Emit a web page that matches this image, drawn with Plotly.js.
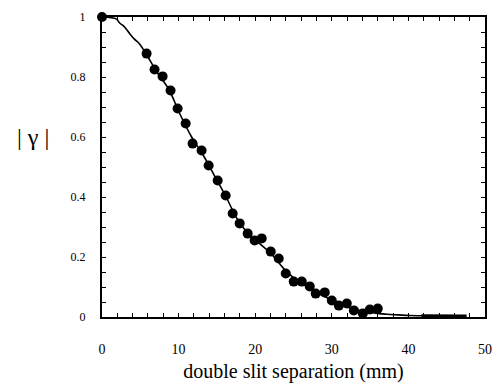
<!DOCTYPE html>
<html>
<head>
<meta charset="utf-8">
<script src="https://cdn.plot.ly/plotly-3.0.1.min.js"></script>
<style>html,body{margin:0;padding:0;background:#fff;}#chart{width:499px;height:386px;}</style>
</head>
<body>
<div id="chart"></div>
<script>
// measured points
const sepX = [0, 5.82, 6.86, 7.91, 8.95, 9.87, 10.92, 11.83, 13.0, 13.92, 15.1, 16.14, 17.06, 17.97, 19.02, 19.93, 20.85, 22.03, 23.07, 23.99, 25.03, 26.08, 27.12, 27.9, 29.08, 30.0, 30.92, 31.96, 32.88, 34.05, 34.97, 36.0];
const gammaY = [1.0, 0.878, 0.825, 0.802, 0.755, 0.695, 0.645, 0.578, 0.555, 0.505, 0.455, 0.405, 0.345, 0.312, 0.278, 0.255, 0.262, 0.218, 0.195, 0.145, 0.118, 0.118, 0.102, 0.078, 0.082, 0.055, 0.038, 0.045, 0.022, 0.012, 0.025, 0.028];
// fitted curve
const fitX = [0, 1.9, 2.3, 2.9, 3.6, 4.2, 4.9, 5.8, 7.2, 8.7, 10.2, 11.7, 13.2, 14.7, 16.2, 17.7, 19.2, 20.7, 22.2, 23.7, 25.2, 26.7, 28.2, 29.7, 31.2, 32.7, 34.2, 35.7, 37.2, 38.7, 40.2, 41.7, 43.2, 45.2, 47.2];
const fitY = [1.0, 0.993, 0.98, 0.968, 0.945, 0.927, 0.91, 0.875, 0.815, 0.76, 0.675, 0.6, 0.54, 0.47, 0.4, 0.325, 0.275, 0.242, 0.208, 0.162, 0.127, 0.103, 0.08, 0.06, 0.042, 0.028, 0.018, 0.013, 0.009, 0.007, 0.005, 0.004, 0.003, 0.003, 0.003];
// thick tail segment
const tailX = [41.7, 47.6];
const tailY = [0.004, 0.003];
// tick positions and labels
const xTickVals = [0, 2, 4, 6, 8, 10, 12, 14, 16, 18, 20, 22, 24, 26, 28, 30, 32, 34, 36, 38, 40, 42, 44, 46, 48, 50];
const xLabelVals = [0, 10, 20, 30, 40, 50];
const yTickVals = [0, 0.05, 0.1, 0.15, 0.2, 0.25, 0.3, 0.35, 0.4, 0.45, 0.5, 0.55, 0.6, 0.65, 0.7, 0.75, 0.8, 0.85, 0.9, 0.95, 1];
const yLabels = {'0': '0', '0.2': '0.2', '0.4': '0.4', '0.6': '0.6', '0.8': '0.8', '1': '1'};

const font = 'Liberation Serif, Times New Roman, serif';
const nb = '\u00a0';

const xTickText = xTickVals.map(v => xLabelVals.includes(v) ? '<br>' + v : '');
const yTickText = yTickVals.map(v => { const k = String(v); return (k in yLabels) ? yLabels[k] + nb + nb + nb + nb : ''; });

const traces = [
  {x: fitX, y: fitY, mode: 'lines', line: {color: '#000', width: 1.6, shape: 'spline'}, hoverinfo: 'skip', cliponaxis: false},
  {x: tailX, y: tailY, mode: 'lines', line: {color: '#000', width: 3}, hoverinfo: 'skip'},
  {x: sepX, y: gammaY, mode: 'markers', marker: {color: '#000', size: 10, symbol: 'circle'}, cliponaxis: false}
];

const layout = {
  width: 499, height: 386,
  margin: {l: 102, r: 14, t: 17, b: 69},
  paper_bgcolor: '#fff', plot_bgcolor: '#fff',
  showlegend: false,
  font: {family: font, color: '#000'},
  xaxis: {
    range: [0, 50], tickmode: 'array', tickvals: xTickVals, ticktext: xTickText,
    ticks: 'inside', ticklen: 4, tickwidth: 1.2, tickcolor: 'black',
    showline: true, linewidth: 2, linecolor: 'black', mirror: 'ticks',
    showgrid: false, zeroline: false,
    tickfont: {size: 14, family: font},
    title: {text: 'double slit separation (mm)', font: {size: 20, family: font}, standoff: 8}
  },
  yaxis: {
    range: [0, 1], tickmode: 'array', tickvals: yTickVals, ticktext: yTickText,
    ticks: 'inside', ticklen: 4, tickwidth: 1.2, tickcolor: 'black',
    showline: true, linewidth: 2, linecolor: 'black', mirror: 'ticks',
    showgrid: false, zeroline: false,
    tickfont: {size: 12, family: font}
  },
  annotations: [
    {text: '| γ |', xref: 'paper', yref: 'paper', x: -0.18, y: 0.6, xanchor: 'center', yanchor: 'middle', showarrow: false, font: {size: 24, family: font}}
  ]
};

Plotly.newPlot('chart', traces, layout, {displayModeBar: false});
</script>
</body>
</html>
